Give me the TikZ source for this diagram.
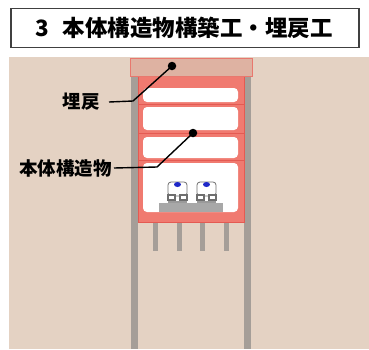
\documentclass[tikz,border=0pt]{standalone}
\usepackage{fontspec}
\newfontfamily\jp{Noto Sans CJK JP}
\definecolor{soil}{RGB}{228,210,195}
\definecolor{wallgrey}{RGB}{165,158,152}
\definecolor{bodyred}{RGB}{240,122,112}
\definecolor{bodyedge}{RGB}{228,90,82}
\definecolor{capfill}{RGB}{222,178,162}
\definecolor{capedge}{RGB}{232,120,110}
\definecolor{slabgrey}{RGB}{168,168,168}
\definecolor{trainblue}{RGB}{30,40,200}
\definecolor{traingrey}{RGB}{110,110,110}
\tikzset{
  label text/.style={font=\jp\bfseries\fontsize{18.5}{18.5}\selectfont, inner sep=0pt},
  leader/.style={draw=black, line width=1.4pt},
  leader dot/.style={circle, fill=black, inner sep=0pt, minimum size=8.5pt},
  room/.style={fill=white, rounded corners=4pt},
  pile/.style={fill=wallgrey},
}
\newcommand\trainfront[1]{%
  \begin{scope}[shift={#1}]
    % car body
    \fill[white, draw=traingrey, line width=0.8pt, rounded corners=3pt] (1,1) rectangle (20,15);
    % front window
    \fill[trainblue] (10.5,3.5) ellipse (3.5pt and 2.5pt);
    \fill[white] (10.5,8) circle (0.8pt);
    % bogies and wheels
    \fill[traingrey] (0,13) rectangle (9,20);
    \fill[traingrey] (12,13) rectangle (21,20);
    \fill[white] (2,15) rectangle (7,17.5);
    \fill[white] (14,15) rectangle (19,17.5);
    \fill[traingrey!70] (1,20) rectangle (20,22);
  \end{scope}}
\begin{document}
\begin{tikzpicture}[x=1pt,y=-1pt]
\useasboundingbox (0,0) rectangle (369,349);
\fill[white] (0,0) rectangle (369,349);
% ground
\fill[soil] (9,57) rectangle (369,349);
% title
\node[draw=black!75, line width=1.4pt, fill=white, minimum width=348pt, minimum height=39pt,
      inner sep=0pt, font=\jp\bfseries\fontsize{22.5}{22.5}\selectfont] (title) at (185,28)
      {\hspace{-2pt}3\hspace{14pt}本体構造物構築工・埋戻工};
% retaining walls
\fill[wallgrey] (131,70) rectangle (138,349);
\fill[wallgrey] (244,70) rectangle (251,349);
% piles
\foreach \px in {155,179,202,226}
  \fill[pile] (\px-2.5,222) rectangle (\px+2.5,251);
% main structure
\fill[bodyred, draw=bodyedge, line width=0.6pt] (138,76) rectangle (244,222);
\draw[bodyedge, line width=1pt] (138,104) -- (244,104) (138,133.5) -- (244,133.5) (138,160.5) -- (244,160.5);
\fill[room] (143,88) rectangle (238,102);
\fill[room] (143,107) rectangle (238,130);
\fill[room] (143,137) rectangle (238,158);
\fill[room] (143,163) rectangle (238,212);
% track slab
\fill[slabgrey] (159,203) rectangle (223,212);
% trains
\trainfront{(167,181)}
\trainfront{(196,181)}
% backfill
\fill[capfill, draw=capedge, line width=0.6pt] (130,58) rectangle (252,76);
% labels
\node[label text, anchor=east] (backfill) at (100,102) {埋戻};
\node[label text, anchor=east] (structure) at (112,168) {本体構造物};
\node[leader dot] (dotA) at (172,66) {};
\node[leader dot] (dotB) at (193,133) {};
\coordinate (kneeA) at (133,101);
\coordinate (kneeB) at (157,167);
\draw[leader] ([xshift=9pt]backfill.east) -- (kneeA) -- (dotA.center);
\draw[leader] ([xshift=2pt]structure.east) -- (kneeB) -- (dotB.center);
\end{tikzpicture}
\end{document}
